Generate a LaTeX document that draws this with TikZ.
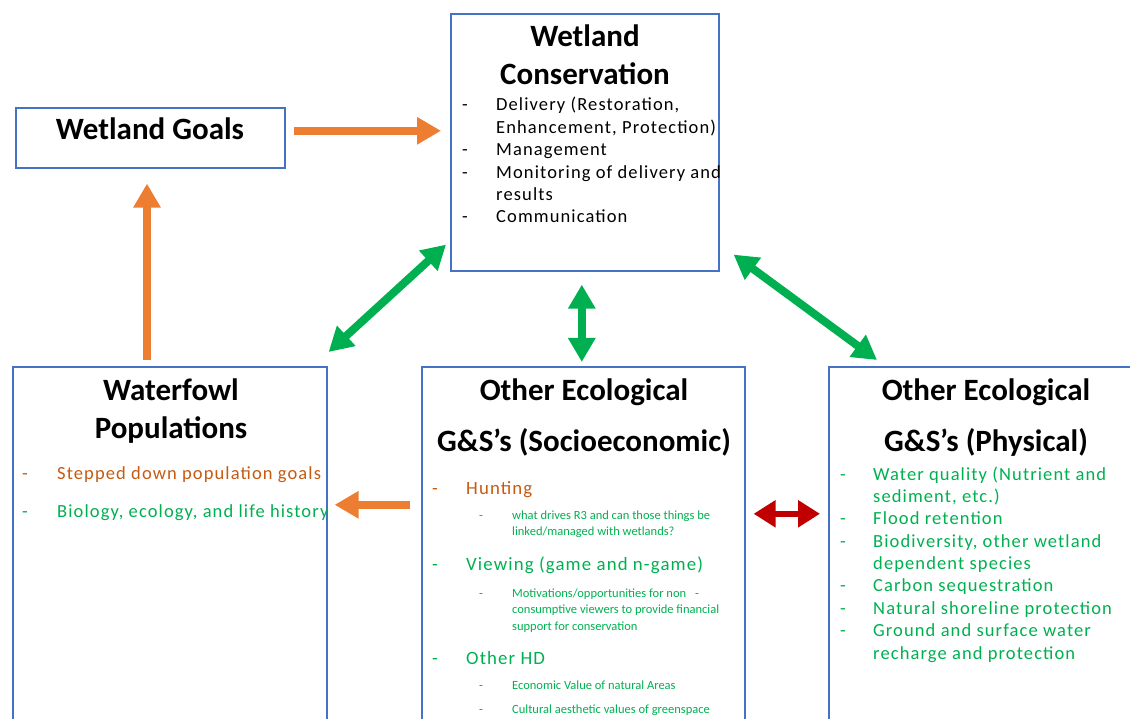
\documentclass[tikz,border=0pt]{standalone}
\usepackage{fontspec}
\setmainfont{Carlito}
\newfontfamily\spacedfont[LetterSpace=6]{Carlito}
\usetikzlibrary{arrows.meta,calc}
\definecolor{boxblue}{HTML}{4472C4}
\definecolor{arrO}{HTML}{ED7D31}
\definecolor{txtO}{HTML}{C55A11}
\definecolor{grn}{HTML}{00B050}
\definecolor{redA}{HTML}{C00000}
\begin{document}
\begin{tikzpicture}[x=1pt,y=-1pt,
  box/.style={draw=boxblue, line width=1.6pt, inner sep=0pt, anchor=north west},
  ttl/.style={font=\fontsize{31}{36}\selectfont\bfseries, anchor=base, inner sep=0pt},
  itm/.style={font=\spacedfont\fontsize{18.5}{22}\selectfont, anchor=base west, inner sep=0pt},
  itmb/.style={font=\spacedfont\fontsize{18.8}{22}\selectfont, anchor=base west, inner sep=0pt},
  subi/.style={font=\fontsize{12.5}{14}\selectfont, anchor=base west, inner sep=0pt},
  fatO/.style={draw=arrO, line width=8pt, -{Triangle[width=26pt,length=24pt]}},
  fatG/.style={draw=grn, line width=8pt, {Triangle[width=26pt,length=24pt]}-{Triangle[width=26pt,length=24pt]}},
  fatR/.style={draw=redA, line width=6pt, {Triangle[width=26pt,length=22pt]}-{Triangle[width=26pt,length=22pt]}}]
\useasboundingbox (0,0) rectangle (1130,719);
% boxes
\node[box, minimum width=269pt, minimum height=60pt] (goals) at (15,107) {};
\node[box, minimum width=268pt, minimum height=257pt] (cons) at (450,13) {};
\node[box, minimum width=314pt, minimum height=364pt] (wf) at (12,366) {};
\node[box, minimum width=323pt, minimum height=364pt] (soc) at (421,366) {};
\node[box, minimum width=312pt, minimum height=364pt] (phy) at (828,366) {};
% titles
\node[ttl] (tgoals) at (150,140) {Wetland Goals};
\node[ttl] (tcons1) at (585,47) {Wetland};
\node[ttl] (tcons2) at (585,85) {Conservation};
\node[ttl] (twf1) at (171,400) {Waterfowl};
\node[ttl] (twf2) at (171,438) {Populations};
\node[ttl] (tsoc1) at (584,400) {Other Ecological};
\node[ttl] (tsoc2) at (584,451) {G\&S’s (Socioeconomic)};
\node[ttl] (tphy1) at (986,400) {Other Ecological};
\node[ttl] (tphy2) at (986,451) {G\&S’s (Physical)};
% conservation items
\foreach \y/\t in {111/{Delivery (Restoration,}, 134/{Enhancement, Protection)}, 156/Management, 179/Monitoring of delivery and, 201/results, 223/Communication}
  \node[itm] at (496,\y) {\t};
\foreach \y in {111,156,179,223}
  \node[itm] at (462,\y) {-};
% waterfowl items
\node[itm, text=txtO] (wf1) at (57,479) {Stepped down population goals};
\node[itm, text=txtO] (wf1d) at (22,479) {-};
\node[itm, text=grn] (wf2) at (57,517) {Biology, ecology, and life history};
\node[itm, text=grn] (wf2d) at (22,517) {-};
% socioeconomic items
\node[itmb, text=txtO] (s1) at (466,494) {Hunting};
\node[itmb, text=txtO] (s1d) at (432,494) {-};
\node[subi, text=grn] (s1a) at (512,519) {what drives R3 and can those things be};
\node[subi, text=grn] (s1b) at (512,535) {linked/managed with wetlands?};
\node[subi, text=grn] (s1ad) at (479,519) {-};
\node[itmb, text=grn] (s2) at (466,570) {Viewing (game and n-game)};
\node[itmb, text=grn] (s2d) at (432,570) {-};
\node[subi, text=grn] (s2a) at (512,597) {Motivations/opportunities for non};
\node[subi, text=grn] (s2ae) at (695,597) {-};
\node[subi, text=grn] (s2b) at (512,613) {consumptive viewers to provide financial};
\node[subi, text=grn] (s2c) at (512,630) {support for conservation};
\node[subi, text=grn] (s2ad) at (479,597) {-};
\node[itmb, text=grn] (s3) at (466,664) {Other HD};
\node[itmb, text=grn] (s3d) at (432,664) {-};
\node[subi, text=grn] (s3a) at (512,689) {Economic Value of natural Areas};
\node[subi, text=grn] (s3ad) at (479,689) {-};
\node[subi, text=grn] (s3b) at (512,713) {Cultural aesthetic values of greenspace};
\node[subi, text=grn] (s3bd) at (479,713) {-};
% physical items
\foreach \y/\t in {480/Water quality (Nutrient and, 502/{sediment, etc.)}, 524/Flood retention, 547/{Biodiversity, other wetland}, 569/dependent species, 591/Carbon sequestration, 614/Natural shoreline protection, 636/Ground and surface water, 659/recharge and protection}
  \node[itm, text=grn] at (873,\y) {\t};
\foreach \y in {480,524,547,591,614,636}
  \node[itm, text=grn] at (840,\y) {-};
% arrows
\draw[fatO] ($(goals.east)+(8,-7)$) -- ($(cons.west)+(-9,-11.5)$);
\draw[fatO] ($(wf.north west)+(135,-6)$) -- ($(goals.south west)+(132,15)$);
\draw[fatO] ($(soc.west)+(-11,-44)$) -- ($(wf.east)+(7,-44)$);
\draw[fatG] ($(wf.north east)+(1,-14)$) -- ($(cons.south west)+(-4,-27)$);
\draw[fatG] ($(cons.south)+(-3,13)$) -- ($(soc.north)+(-1.5,-4)$);
\draw[fatG] ($(cons.south east)+(14,-17)$) -- ($(phy.north west)+(49,-6)$);
\draw[fatR] ($(soc.east)+(8,-35)$) -- ($(phy.west)+(-8,-35)$);
\end{tikzpicture}
\end{document}
